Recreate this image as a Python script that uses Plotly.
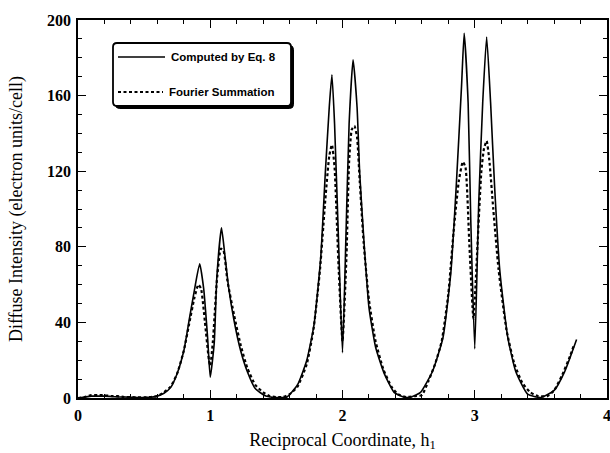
import plotly.graph_objects as go

# ---- data ----
h_computed = [0, 0.05, 0.1, 0.15, 0.2, 0.25, 0.3, 0.35, 0.4, 0.45,
              0.5, 0.55, 0.6, 0.65, 0.7, 0.75, 0.8, 0.84, 0.88, 0.92,
              0.95, 0.98, 1.0, 1.03, 1.05, 1.085, 1.11, 1.14, 1.18, 1.23,
              1.28, 1.34, 1.42, 1.48, 1.53, 1.58, 1.66, 1.73, 1.785, 1.835,
              1.87, 1.90, 1.92, 1.94, 1.97, 2.0, 2.025, 2.05, 2.08, 2.11,
              2.13, 2.165, 2.20, 2.25, 2.315, 2.39, 2.46, 2.52, 2.59, 2.68,
              2.76, 2.82, 2.86, 2.90, 2.92, 2.95, 2.97, 3.0, 3.03, 3.06,
              3.09, 3.12, 3.15, 3.19, 3.25, 3.31, 3.40, 3.50, 3.60, 3.68,
              3.77]
i_computed = [0, 0.5, 1, 1, 1, 0.8, 0.6, 0.5, 0.4, 0.3,
              0.3, 0.4, 1, 2.5, 5.5, 13, 25, 41, 57, 71,
              58, 32, 11, 29, 64, 90, 76, 58, 41, 25,
              14, 5, 1, 0.3, 0.2, 0.5, 7, 20, 39, 74,
              119, 154, 171, 145, 83, 24, 83, 145, 179, 154,
              119, 80, 48, 27, 13, 3, 0.5, 0.5, 3, 14,
              32, 67, 112, 165, 193, 156, 94, 26, 103, 156,
              191, 156, 112, 67, 32, 14, 2, 0.3, 4, 14,
              31]

h_fourier = [0, 0.05, 0.1, 0.15, 0.2, 0.25, 0.3, 0.35, 0.4, 0.45,
             0.5, 0.55, 0.6, 0.65, 0.7, 0.75, 0.8, 0.84, 0.88, 0.91,
             0.93, 0.96, 0.99, 1.0, 1.02, 1.05, 1.08, 1.1, 1.13, 1.18,
             1.23, 1.28, 1.34, 1.40, 1.45, 1.5, 1.55, 1.6, 1.66, 1.73,
             1.78, 1.83, 1.87, 1.9, 1.92, 1.94, 1.97, 2.0, 2.03, 2.05,
             2.07, 2.09, 2.11, 2.13, 2.16, 2.2, 2.25, 2.31, 2.37, 2.42,
             2.48, 2.55, 2.6, 2.65, 2.7, 2.75, 2.8, 2.84, 2.88, 2.91,
             2.93, 2.96, 2.99, 3.02, 3.05, 3.07, 3.09, 3.11, 3.14, 3.18,
             3.24, 3.3, 3.36, 3.42, 3.48, 3.55, 3.6, 3.66, 3.72, 3.75]
i_fourier = [0, 0.5, 1.5, 1.5, 1.5, 1, 1, 0.5, 0.5, 0.3,
             0.3, 0.5, 1, 3, 6, 13, 25, 39, 53, 60,
             58, 40, 20, 17, 30, 62, 79, 78, 62, 44,
             28, 16, 7, 3, 1, 0.5, 0.5, 2, 6, 18,
             36, 68, 105, 128, 134, 122, 70, 30, 75, 125,
             142, 144, 138, 115, 82, 52, 30, 15, 6, 2,
             0.5, 1, 1.5, 9, 18, 30, 55, 88, 115, 125,
             122, 80, 42, 80, 120, 132, 136, 126, 100, 68,
             36, 18, 8, 3, 1, 1, 4, 12, 22, 28]

series_names = ["Computed by Eq. 8", "Fourier Summation"]
x_tick_vals = [0, 1, 2, 3, 4]
y_tick_vals = [0, 40, 80, 120, 160, 200]
x_title = "Reciprocal Coordinate, h<sub>1</sub>"
y_title = "Diffuse Intensity (electron units/cell)"

# ---- layout geometry (page pixels; body margin removed below) ----
W, H = 610, 453
ML, MR, MT, MB = 78, 3, 20, 55
PW, PH = W - ML - MR, H - MT - MB


def px(xpage):
    return (xpage - ML) / PW


def py(ypage):
    return (H - MB - ypage) / PH


serif = "Liberation Serif, Times New Roman, serif"
tick_font = dict(family=serif, size=16, color="black", weight="bold")

fig = go.Figure()
fig.add_trace(go.Scatter(x=h_computed, y=i_computed, mode="lines",
                         name=series_names[0], showlegend=False,
                         line=dict(color="black", width=1.6, shape="spline", smoothing=0.5)))
fig.add_trace(go.Scatter(x=h_fourier, y=i_fourier, mode="lines",
                         name=series_names[1], showlegend=False,
                         line=dict(color="black", width=2.2, dash="3px,2.5px",
                                   shape="spline", smoothing=0.5)))

axis_common = dict(showline=True, linecolor="black", linewidth=1.5, mirror="allticks",
                   ticks="inside", ticklen=8, tickwidth=1.2, tickcolor="black",
                   showgrid=False, zeroline=False, tickfont=tick_font)

fig.update_xaxes(range=[0, 4], tickvals=x_tick_vals,
                 ticklabelstandoff=2, ticklabeloverflow="allow",
                 minor=dict(dtick=0.2, ticklen=4, tickwidth=1, ticks="inside", tickcolor="black"),
                 title=dict(text=x_title, standoff=10,
                            font=dict(family=serif, size=18, color="black")),
                 **axis_common)
fig.update_yaxes(range=[0, 200], tickvals=y_tick_vals, ticklabelstandoff=2,
                 minor=dict(dtick=10, ticklen=4, tickwidth=1, ticks="inside", tickcolor="black"),
                 title=dict(text=y_title, standoff=20,
                            font=dict(family=serif, size=18, color="black")),
                 **axis_common)

# ---- legend box (rounded, with drop shadow), page-pixel positions ----
bx0, bx1, by0, by1 = 113, 291, 43, 106
r = 4


def rounded(x0, y0, x1, y1, rad):
    return (f"M {px(x0 + rad)},{py(y0)} L {px(x1 - rad)},{py(y0)} "
            f"Q {px(x1)},{py(y0)} {px(x1)},{py(y0 + rad)} L {px(x1)},{py(y1 - rad)} "
            f"Q {px(x1)},{py(y1)} {px(x1 - rad)},{py(y1)} L {px(x0 + rad)},{py(y1)} "
            f"Q {px(x0)},{py(y1)} {px(x0)},{py(y1 - rad)} L {px(x0)},{py(y0 + rad)} "
            f"Q {px(x0)},{py(y0)} {px(x0 + rad)},{py(y0)} Z")


fig.add_shape(type="path", xref="paper", yref="paper",
              path=rounded(bx0 + 2.5, by0 + 2.5, bx1 + 2.5, by1 + 2.5, r),
              fillcolor="black", line=dict(color="black", width=1))
fig.add_shape(type="path", xref="paper", yref="paper",
              path=rounded(bx0, by0, bx1, by1, r),
              fillcolor="white", line=dict(color="black", width=1.8))
fig.add_shape(type="line", xref="paper", yref="paper",
              x0=px(118), x1=px(165), y0=py(57), y1=py(57),
              line=dict(color="black", width=1.6))
fig.add_shape(type="line", xref="paper", yref="paper",
              x0=px(118), x1=px(163), y0=py(92), y1=py(92),
              line=dict(color="black", width=2.2, dash="3px,2.5px"))
for name, ypos, xpos in [(series_names[0], 57, 169), (series_names[1], 92, 167)]:
    fig.add_annotation(x=px(xpos), y=py(ypos), xref="paper", yref="paper",
                       text=name, showarrow=False, xanchor="left", yanchor="middle",
                       font=dict(family="Liberation Sans, Arial, sans-serif", size=11.5,
                                 color="black", weight="bold"))

fig.update_layout(width=W, height=H, margin=dict(l=ML, r=MR, t=MT, b=MB, autoexpand=False),
                  paper_bgcolor="white", plot_bgcolor="white", showlegend=False)

fig.write_html("out.html", config={"displayModeBar": False},
               post_script="document.body.style.margin='0px';document.body.style.overflow='hidden';")
